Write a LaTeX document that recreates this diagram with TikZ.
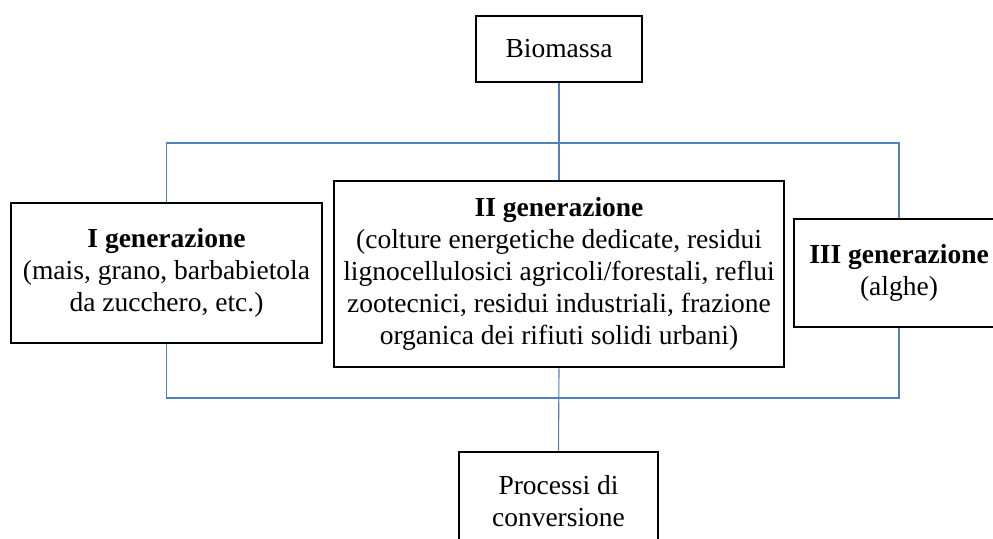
\documentclass[tikz,border=0pt]{standalone}
\usepackage{fontspec}
\setmainfont{Liberation Serif}
\definecolor{connblue}{RGB}{79,129,189}
\begin{document}
\begin{tikzpicture}[x=1pt,y=-1pt,
  box/.style={draw=black, line width=2.8pt, fill=white, align=center, inner sep=0pt,
    font=\fontsize{27.5}{32}\selectfont},
  conn/.style={draw=connblue, line width=1.1pt}]
\useasboundingbox[fill=white] (0,0) rectangle (993,538);
\coordinate (tr) at (899,143);
\coordinate (br) at (899,398);
\node[box, minimum width=166, minimum height=66] (bio) at (559,49) {Biomassa};
\node[box, minimum width=311, minimum height=140] (g1) at (166.5,273)
  {\textbf{I generazione}\\(mais, grano, barbabietola\\da zucchero, etc.)};
\node[box, minimum width=450, minimum height=186] (g2) at (559,274)
  {\textbf{II generazione}\\(colture energetiche dedicate, residui\\lignocellulosici agricoli/forestali, reflui\\zootecnici, residui industriali, frazione\\organica dei rifiuti solidi urbani)};
\node[box, minimum width=210, minimum height=108] (g3) at (899,273)
  {\textbf{III generazione}\\(alghe)};
\node[box, minimum width=199, minimum height=99] (proc) at (558.5,501.5)
  {Processi di\\conversione};
\draw[conn] (bio.south) -- (g2.north);
\draw[conn] (g1.north) |- (tr) -- (g3.north);
\draw[conn] (g1.south) |- (br) -- (g3.south);
\draw[conn] (g2.south) -- (proc.north);
\end{tikzpicture}
\end{document}
